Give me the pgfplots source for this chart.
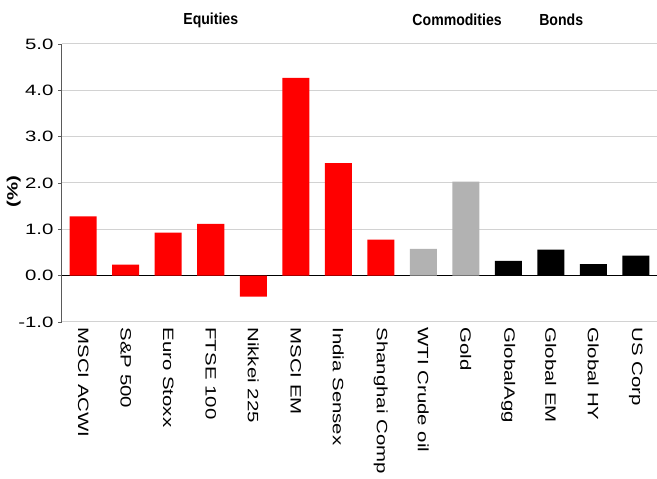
\documentclass[border=0pt]{standalone}
\usepackage{fontspec}
\setmainfont{Liberation Sans}
\newfontfamily\widefont{Liberation Sans}[FakeStretch=1.36]
\newfontfamily\narrowfont{Liberation Sans}[FakeStretch=0.88]
\usepackage{graphicx}
\usepackage{pgfplots}
\pgfplotsset{compat=1.18}
\definecolor{gridgray}{RGB}{210,210,210}
\definecolor{bargray}{RGB}{178,178,178}
\definecolor{axisgray}{RGB}{90,90,90}
\begin{document}
\begin{tikzpicture}
\begin{axis}[
  scale only axis, width=595pt, height=278pt,
  xmin=-0.5, xmax=13.5, ymin=-1, ymax=5,
  ytick={-1,0,1,2,3,4,5},
  /pgf/number format/fixed,
  /pgf/number format/fixed zerofill,
  /pgf/number format/precision=1,
  /pgf/number format/assume math mode=true,
  ticklabel style={font=\widefont\fontsize{15}{17}\selectfont},
  axis x line=bottom, axis y line=left,
  axis line style={-},
  x axis line style={draw=gridgray, line width=1pt},
  y axis line style={draw=axisgray, line width=1pt},
  ymajorgrids, major grid style={gridgray, line width=1pt},
  xtick={0,1,2,3,4,5,6,7,8,9,10,11,12,13},
  xticklabels={MSCI ACWI, S\&P 500, Euro Stoxx, FTSE 100, Nikkei 225, MSCI EM, India Sensex, Shanghai Comp, WTI Crude oil, Gold, GlobalAgg, Global EM, Global HY, US Corp},
  xtick style={draw=none},
  xticklabel style={rotate=-90, anchor=west, xshift=-2pt},
  ytick style={draw=axisgray, line width=0.8pt},
  tick align=outside, major tick length=4pt,
  yticklabel style={xshift=-1pt},
  extra y ticks={0}, extra y tick labels={},
  extra y tick style={major tick length=0pt, major grid style={black, line width=1.4pt}},
  ybar, bar width=27pt, bar shift=0pt,
  clip=false,
]
\addplot[fill=red, draw=none] coordinates {(0,1.28)(1,0.24)(2,0.93)(3,1.12)(4,-0.45)(5,4.27)(6,2.43)(7,0.78)};
\addplot[fill=bargray, draw=none] coordinates {(8,0.58)(9,2.03)};
\addplot[fill=black, draw=none] coordinates {(10,0.32)(11,0.56)(12,0.25)(13,0.43)};
\node[font=\narrowfont\bfseries\fontsize{16}{18}\selectfont] at (rel axis cs:0.25,1.086) {Equities};
\node[font=\narrowfont\bfseries\fontsize{16}{18}\selectfont] at (rel axis cs:0.664,1.086) {Commodities};
\node[font=\narrowfont\bfseries\fontsize{16}{18}\selectfont] at (rel axis cs:0.839,1.086) {Bonds};
\node[rotate=90, font=\widefont\bfseries\fontsize{15}{17}\selectfont] at (rel axis cs:-0.081,0.468) {(\%)};
\end{axis}
\pgfresetboundingbox
\useasboundingbox ([shift={(-62pt,-157pt)}]current axis.south west) rectangle ([shift={(0pt,44pt)}]current axis.north east);
\end{tikzpicture}
\end{document}
